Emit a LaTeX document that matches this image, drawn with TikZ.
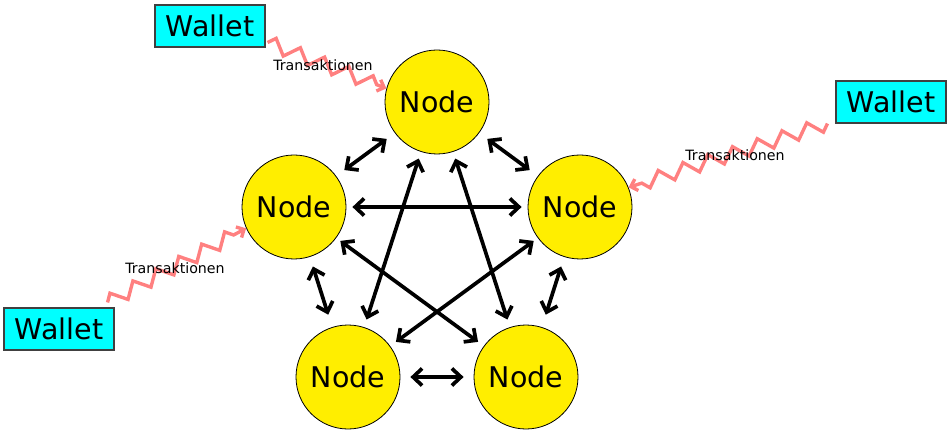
\documentclass[tikz,border=0pt]{standalone}
\usepackage{fontspec}
\setmainfont{DejaVu Sans}
\usetikzlibrary{arrows.meta,decorations.pathmorphing,calc}
\definecolor{nodeyellow}{RGB}{255,238,0}
\definecolor{walletcyan}{RGB}{0,255,255}
\definecolor{txpink}{RGB}{255,128,128}
\tikzset{
  peer/.style={circle,draw=black,line width=0.8pt,fill=nodeyellow,minimum size=104pt,inner sep=0pt,font=\fontsize{28.5}{30}\selectfont},
  wallet/.style={rectangle,draw=black!75,line width=1.1pt,fill=walletcyan,minimum width=110pt,minimum height=42pt,inner sep=0pt,font=\fontsize{28.5}{30}\selectfont},
  link/.style={line width=3.7pt,{Straight Barb[length=9pt,width=17pt]}-{Straight Barb[length=9pt,width=17pt]}},
  tx/.style={txpink,line width=3.4pt,-{Straight Barb[length=6pt,width=12pt]},
    decorate,decoration={zigzag,segment length=26pt,amplitude=7pt,post length=4pt}},
  txlabel/.style={font=\fontsize{14.2}{16}\selectfont,inner sep=0pt}
}
\begin{document}
\begin{tikzpicture}[x=1pt,y=-1pt]
\useasboundingbox (0,0) rectangle (950,430);
% peers
\node[peer] (nT)  at (437,102) {Node};
\node[peer] (nL)  at (294,207) {Node};
\node[peer] (nR)  at (580,207) {Node};
\node[peer] (nBL) at (348,377) {Node};
\node[peer] (nBR) at (526,377) {Node};
% wallets
\node[wallet] (wA) at (210,26)  {Wallet};
\node[wallet] (wR) at (891,102) {Wallet};
\node[wallet] (wB) at (59,329)  {Wallet};
% peer-to-peer links
\draw[link,shorten <=10pt,shorten >=10pt] (nL) -- (nT);
\draw[link,shorten <=10pt,shorten >=10pt] (nT) -- (nR);
\draw[link,shorten <=6pt,shorten >=6pt] (nL) -- (nR);
\draw[link,shorten <=7pt,shorten >=8pt] (nT) -- (nBL);
\draw[link,shorten <=7pt,shorten >=8pt] (nT) -- (nBR);
\draw[link,shorten <=5pt,shorten >=7pt] (nL) -- (nBR);
\draw[link,shorten <=5pt,shorten >=7pt] (nR) -- (nBL);
\draw[link,shorten <=10pt,shorten >=13pt] (nL) -- (nBL);
\draw[link,shorten <=10pt,shorten >=13pt] (nR) -- (nBR);
\draw[link,shorten <=10pt,shorten >=10pt] (nBL) -- (nBR);
% transactions from wallets
\draw[tx] ($(wA.south east)+(2,-5)$) -- (nT.165);
\draw[tx] ($(wR.south west)+(-8,0)$) -- (nR.22);
\draw[tx] ($(wB.north east)+(-7,-5)$) -- (nL.204);
\node[txlabel] (lA) at (323,65)  {Transaktionen};
\node[txlabel] (lR) at (735,155) {Transaktionen};
\node[txlabel] (lB) at (175,268) {Transaktionen};
\end{tikzpicture}
\end{document}
